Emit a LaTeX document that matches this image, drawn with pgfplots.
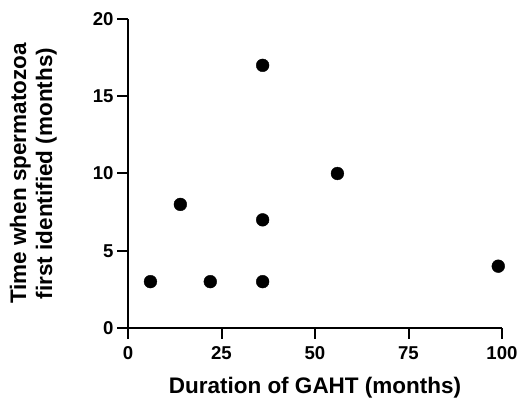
\documentclass[border=0pt]{standalone}
\usepackage{pgfplots}
\pgfplotsset{compat=1.18}
\usepackage{fontspec}
\setmainfont{Liberation Sans}[BoldFont={Liberation Sans Bold}]
\begin{document}
\begin{tikzpicture}
\begin{axis}[
  name=ax,
  scale only axis,
  width=374pt, height=309pt,
  xmin=0, xmax=100, ymin=0, ymax=20,
  axis lines=left,
  axis line style={line width=2pt, -},
  xtick={0,25,50,75,100},
  xticklabels={\textbf{0},\textbf{25},\textbf{50},\textbf{75},\textbf{100}},
  ytick={0,5,10,15,20},
  yticklabels={\textbf{0},\textbf{5},\textbf{10},\textbf{15},\textbf{20}},
  tick style={line width=2pt, black},
  tick align=outside,
  major tick length=11pt,
  tick label style={font=\bfseries\fontsize{18.6}{21}\selectfont},
  xticklabel style={yshift=-4pt},
  xlabel={Duration of GAHT (months)},
  ylabel={Time when spermatozoa\\first identified (months)},
  ylabel style={align=center, font=\bfseries\fontsize{22.5}{26}\selectfont,
    at={(axis description cs:-0.19,0.5)}, anchor=south, inner sep=0pt},
  xlabel style={font=\bfseries\fontsize{22.5}{26}\selectfont,
    at={(axis description cs:0.5,-0.2136)}, anchor=base, inner sep=0pt},
  clip=false,
]
\addplot[only marks, mark=*, mark size=6.4pt, black] coordinates {
(6,3) (14,8) (22,3) (36,17) (36,7) (36,3) (56,10) (99,4)
};
\end{axis}
\pgfresetboundingbox
\path ([xshift=-128pt,yshift=-70pt]ax.south west) rectangle ([xshift=20pt,yshift=19pt]ax.north east);
\end{tikzpicture}
\end{document}
